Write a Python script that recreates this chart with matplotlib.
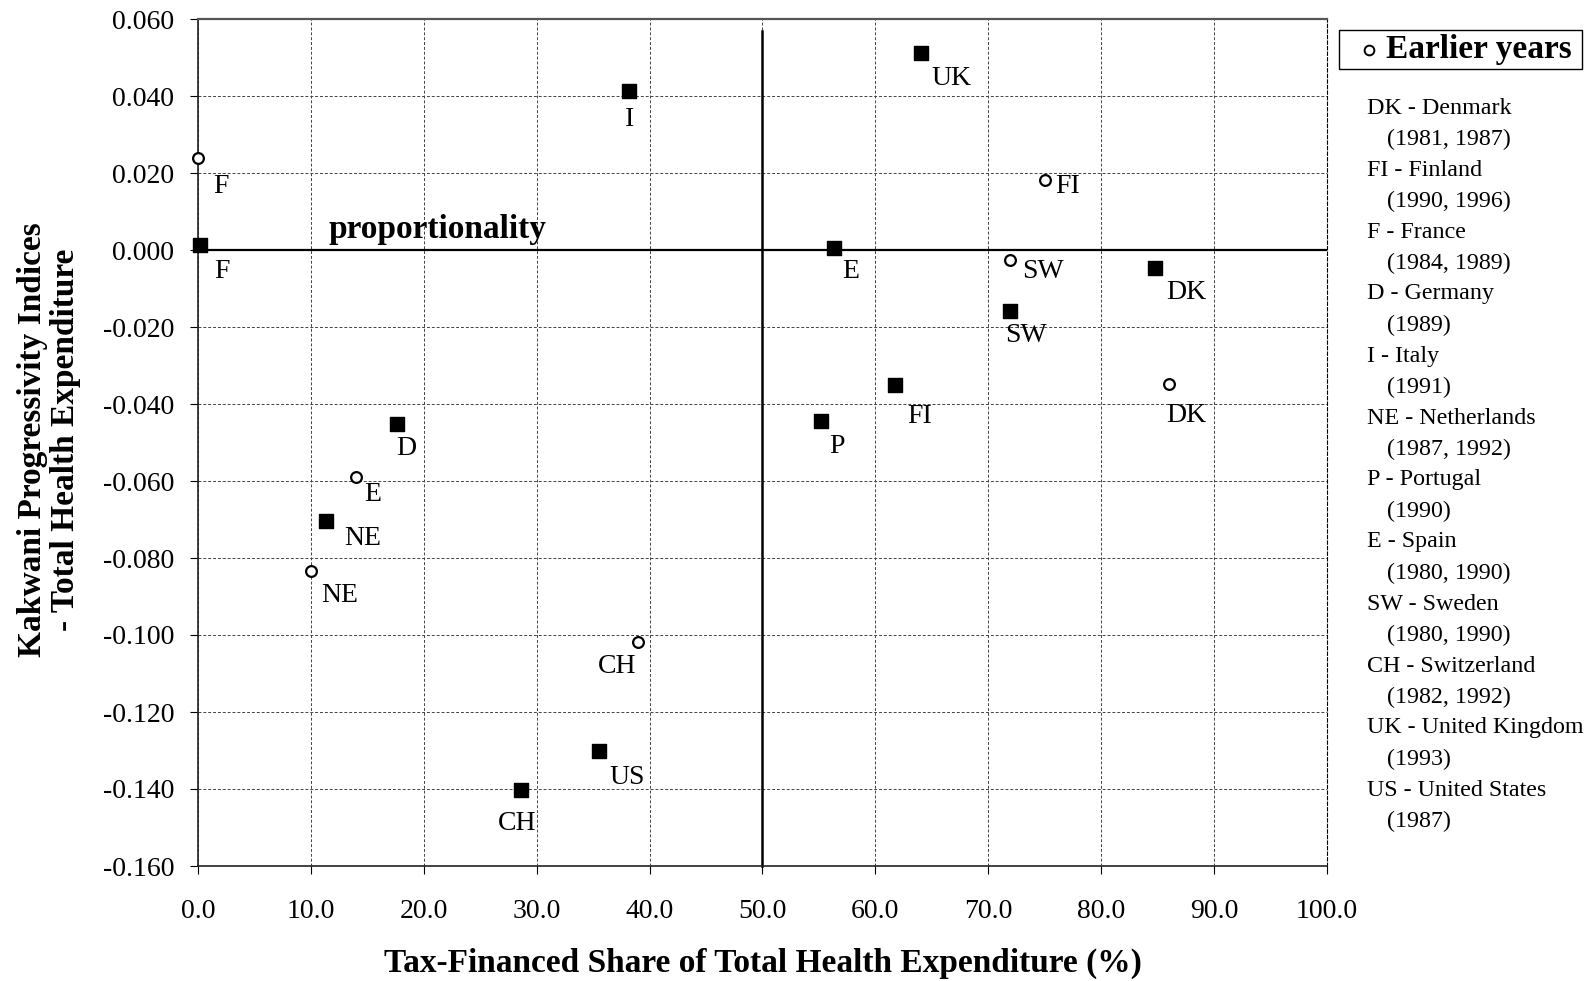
import numpy as np
import matplotlib.pyplot as plt

# --- data ---
latest_codes = ["F", "I", "UK", "E", "DK", "SW", "FI", "P", "D", "NE", "US", "CH"]
latest_x = [0.2, 38.2, 64.0, 56.3, 84.8, 71.9, 61.7, 55.2, 17.6, 11.3, 35.5, 28.6]
latest_y = [0.0012, 0.0413, 0.0512, 0.0006, -0.0046, -0.0158, -0.0350, -0.0445, -0.0452, -0.0703, -0.1302, -0.1403]
latest_off = [(22, 26), (0, 29), (31, 26), (17, 24), (31, 25), (16, 25), (25, 32), (16, 25), (10, 24), (37, 18), (28, 26), (-4, 33)]

earlier_codes = ["F", "FI", "SW", "DK", "E", "NE", "CH"]
earlier_x = [0.0, 75.0, 71.9, 86.0, 14.0, 10.0, 39.0]
earlier_y = [0.0238, 0.0182, -0.0027, -0.0348, -0.0590, -0.0833, -0.1018]
earlier_off = [(23, 28), (23, 7), (33, 11), (17, 32), (17, 17), (29, 25), (-21, 25)]

legend_lines = [
    ("DK - Denmark", "(1981, 1987)"),
    ("FI - Finland", "(1990, 1996)"),
    ("F - France", "(1984, 1989)"),
    ("D - Germany", "(1989)"),
    ("I - Italy", "(1991)"),
    ("NE - Netherlands", "(1987, 1992)"),
    ("P - Portugal", "(1990)"),
    ("E - Spain", "(1980, 1990)"),
    ("SW - Sweden", "(1980, 1990)"),
    ("CH - Switzerland", "(1982, 1992)"),
    ("UK - United Kingdom", "(1993)"),
    ("US - United States", "(1987)"),
]

xticks = np.arange(0, 101, 10)
yticks = np.arange(-0.16, 0.0601, 0.02)

plt.rcParams['font.family'] = ['Liberation Serif', 'DejaVu Serif']
W, H = 1593, 981
fig = plt.figure(figsize=(W / 100, H / 100), dpi=100)
ax = fig.add_axes([198 / W, 1 - 866 / H, (1327 - 198) / W, (866 - 19) / H])

ax.set_xlim(0, 100)
ax.set_ylim(-0.16, 0.06)
ax.set_xticks(xticks)
ax.set_yticks(yticks)
ax.set_xticklabels([f"{v:.1f}" for v in xticks])
ax.set_yticklabels([f"{v:.3f}".replace("-0.000", "0.000") for v in yticks])
ax.tick_params(labelsize=20, length=6, width=0.8, colors='black')
ax.tick_params(axis='x', pad=18)
ax.tick_params(axis='y', pad=11)
ax.grid(True, color='#444444', linestyle=(0, (3, 2)), linewidth=0.7)
ax.set_axisbelow(True)
for s in ['left', 'bottom']:
    ax.spines[s].set_linewidth(1.2)
    ax.spines[s].set_color('#222222')
ax.spines['top'].set_linestyle((0, (3, 1)))
ax.spines['top'].set_linewidth(1.6)
ax.spines['top'].set_color('#555555')
ax.spines['right'].set_linestyle((0, (3, 2)))
ax.spines['right'].set_linewidth(0.8)

# reference lines
ax.axhline(0, color='black', linewidth=1.6, zorder=2)
ax.plot([50, 50], [-0.16, 0.057], color='black', linewidth=1.8, zorder=2, clip_on=False)
ax.text(21.2, 0.0012, "proportionality", fontsize=24, fontweight='bold', ha='center', va='bottom')

ax.scatter(latest_x, latest_y, marker='s', s=110, color='black', zorder=4, clip_on=False)
ax.scatter(earlier_x, earlier_y, marker='o', s=60, facecolor='white', edgecolor='black',
           linewidth=1.6, zorder=4, clip_on=False)

for code, x, y, (dx, dy) in zip(latest_codes, latest_x, latest_y, latest_off):
    ax.annotate(code, (x, y), xytext=(dx, -dy), textcoords='offset pixels',
                ha='center', va='center', fontsize=20)
for code, x, y, (dx, dy) in zip(earlier_codes, earlier_x, earlier_y, earlier_off):
    ax.annotate(code, (x, y), xytext=(dx, -dy), textcoords='offset pixels',
                ha='center', va='center', fontsize=20)

# axis titles
fig.text(763 / W, 1 - 963 / H, "Tax-Financed Share of Total Health Expenditure (%)",
         ha='center', va='center', fontsize=24, fontweight='bold')
fig.text(49 / W, 1 - 440 / H, "Kakwani Progressivity Indices\n- Total Health Expenditure",
         ha='center', va='center', rotation=90, fontsize=24, fontweight='bold',
         linespacing=1.1)

# legend box
box = plt.Rectangle((1339 / W, 1 - 69 / H), (1582 - 1339) / W, (69 - 30) / H,
                    transform=fig.transFigure, fill=False, edgecolor='black', linewidth=1.0)
fig.add_artist(box)
fig.lines.append(plt.Line2D([1369 / W], [1 - 50 / H], marker='o', markersize=7,
                            markerfacecolor='white', markeredgecolor='black',
                            markeredgewidth=1.4, transform=fig.transFigure))
fig.text(1386 / W, 1 - 50 / H, "Earlier years", ha='left', va='center',
         fontsize=24, fontweight='bold')

y0 = 108
for i, (name, yrs) in enumerate(legend_lines):
    fig.text(1367 / W, 1 - (y0 + 62 * i) / H, name, ha='left', va='center', fontsize=17.3)
    fig.text(1387 / W, 1 - (y0 + 31 + 62 * i) / H, yrs, ha='left', va='center', fontsize=17.3)

fig.savefig("out.png", dpi=100)
